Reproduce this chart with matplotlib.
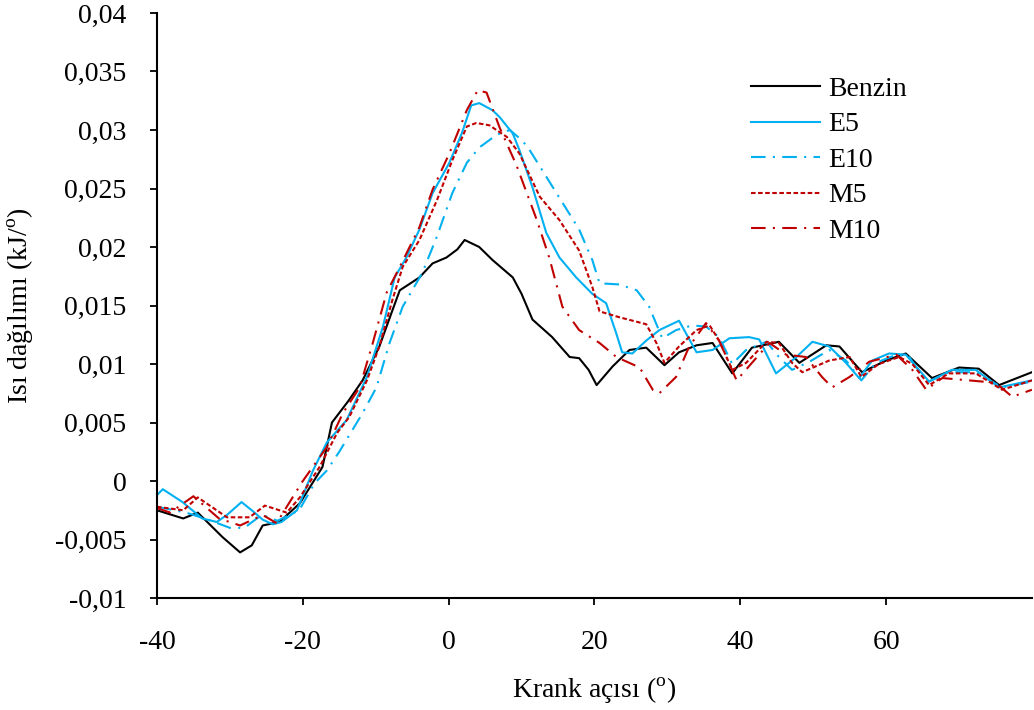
import matplotlib

matplotlib.use("Agg")
import matplotlib.pyplot as plt

# crank angle / heat release
benzin_x = [-40, -36.4, -34.4, -31, -28.6, -27, -25.5, -23.2, -20.4, -17.3, -16, -13.8, -11.8,
            -9.5, -7.7, -6.7, -4, -2.2, -0.3, 1.2, 2.2, 4.2, 6, 8.8, 10, 11.5, 14.2, 16.6,
            17.9, 19.2, 20.3, 22.5, 24.8, 27.1, 29.6, 31.6, 34, 36.2, 38.9, 41.6, 45.3,
            48.1, 51.8, 53.6, 56.7, 60, 62.7, 66.3, 70, 72.7, 75.5, 80]
benzin_y = [-0.0025, -0.0032, -0.0027, -0.0048, -0.0061, -0.0055, -0.0038, -0.0035, -0.0019,
            0.0012, 0.0050, 0.0068, 0.0086, 0.0115, 0.0146, 0.0163, 0.0174, 0.0186, 0.0191,
            0.0198, 0.0206, 0.0200, 0.0189, 0.0174, 0.0160, 0.0138, 0.0123, 0.0106, 0.0105,
            0.0095, 0.0082, 0.0098, 0.0112, 0.0114, 0.0099, 0.0110, 0.0116, 0.0118, 0.0092,
            0.0114, 0.0119, 0.0101, 0.0116, 0.0115, 0.0093, 0.0103, 0.0109, 0.0088, 0.0097,
            0.0096, 0.0082, 0.0093]

e5_x = [-40, -39.2, -36.5, -33.8, -31.8, -30.4, -28.4, -26.8, -25.5, -24.1, -22.9, -20.8, -18.6,
        -16.7, -14, -11.2, -9, -7.4, -5.8, -4, -2.2, 0.1, 1.8, 3.1, 4.2, 6, 7, 8.8, 9.7, 11.5,
        13.4, 15.2, 17.5, 19.7, 21.6, 23, 23.8, 25.2, 27.1, 28.9, 31.6, 34, 36.2, 38.5, 41.2,
        42.6, 44.9, 47.7, 49.9, 52.2, 54.5, 56.3, 58.1, 60.4, 62.7, 65.9, 69, 72.3, 75.5, 80]
e5_y = [-0.0012, -0.0007, -0.0018, -0.0032, -0.0035, -0.0029, -0.0018, -0.0026, -0.0033,
        -0.0037, -0.0035, -0.0025, 0.0009, 0.0033, 0.0052, 0.0089, 0.0132, 0.0174, 0.0191,
        0.0215, 0.0246, 0.0272, 0.0297, 0.0321, 0.0323, 0.0317, 0.0311, 0.0297, 0.0283,
        0.0251, 0.0212, 0.0191, 0.0174, 0.0160, 0.0152, 0.0126, 0.0110, 0.0109, 0.0120,
        0.0129, 0.0137, 0.0110, 0.0112, 0.0122, 0.0123, 0.0121, 0.0092, 0.0106, 0.0119,
        0.0115, 0.0101, 0.0088, 0.0103, 0.0109, 0.0108, 0.0085, 0.0095, 0.0095, 0.0080, 0.0086]

e10_x = [-40, -36, -33, -30, -28, -26.3, -25.5, -23.5, -20.5, -18.4, -16.7, -15, -11.8, -9.9,
         -8.1, -6.3, -3.6, -1.6, 0.5, 2.5, 4.2, 6.6, 8.4, 10.1, 11.1, 13.4, 15.6, 17.9, 19.7,
         20.7, 23.4, 25.8, 27.5, 29.3, 31.2, 33.4, 35.3, 37.1, 38.9, 40.8, 43.6, 45.3, 47.1,
         49.5, 52.2, 54.5, 56.6, 58.6, 61.4, 63.2, 65.5, 68.6, 72.3, 75.9, 80]
e10_y = [-0.0022, -0.0027, -0.0033, -0.0040, -0.0040, -0.0032, -0.0029, -0.0034, -0.0025,
         -0.0002, 0.0009, 0.0025, 0.0058, 0.0080, 0.0118, 0.0149, 0.0178, 0.0209, 0.0246,
         0.0272, 0.0285, 0.0296, 0.0300, 0.0291, 0.0283, 0.0260, 0.0238, 0.0215, 0.0189,
         0.0169, 0.0168, 0.0163, 0.0149, 0.0122, 0.0129, 0.0133, 0.0132, 0.0123, 0.0100,
         0.0112, 0.0119, 0.0106, 0.0095, 0.0102, 0.0112, 0.0103, 0.0086, 0.0101, 0.0108,
         0.0106, 0.0084, 0.0093, 0.0093, 0.0080, 0.0085]

m5_x = [-40, -36.4, -34.4, -30.4, -27.3, -25.2, -22.2, -20.4, -17.7, -15.3, -13.6, -11.2, -9.5,
        -7.7, -6.3, -4, -1.6, 0.5, 2.5, 3.8, 5.6, 8, 9.7, 12.5, 15.2, 17.9, 19.7, 20.7, 23.4,
        27.1, 28.5, 29.6, 31.6, 34, 35.8, 37.1, 38.9, 40.8, 43.6, 45.3, 47.1, 48.5, 52.2, 55,
        56.6, 59, 61.8, 63.6, 65.9, 68.6, 72.3, 75.9, 80]
m5_y = [-0.0022, -0.0025, -0.0014, -0.0031, -0.0031, -0.0021, -0.0027, -0.0014, 0.0012,
        0.0041, 0.0055, 0.0086, 0.0115, 0.0155, 0.0183, 0.0206, 0.0240, 0.0274, 0.0303,
        0.0306, 0.0304, 0.0294, 0.0280, 0.0243, 0.0223, 0.0197, 0.0166, 0.0145, 0.0140,
        0.0134, 0.0118, 0.0101, 0.0115, 0.0129, 0.0133, 0.0120, 0.0095, 0.0101, 0.0119,
        0.0118, 0.0101, 0.0093, 0.0103, 0.0106, 0.0089, 0.0100, 0.0106, 0.0100, 0.0082,
        0.0092, 0.0092, 0.0078, 0.0086]

m10_x = [-40, -38.2, -35, -31.5, -28.6, -25.5, -23.6, -21.4, -20, -16.7, -14.5, -12.2, -10.4,
         -8.5, -6.7, -4, -2.2, 0.1, 2.5, 4, 5.2, 7, 9.3, 12.1, 13.8, 15.6, 17.9, 20.7, 23,
         26.2, 28, 28.9, 31.2, 33, 35.3, 37.1, 39.5, 41.6, 44, 46.3, 49, 51.2, 52.6, 55, 57.7,
         61.4, 63.6, 65.5, 67.7, 71.4, 75, 77.3, 80]
m10_y = [-0.0023, -0.0027, -0.0013, -0.0032, -0.0038, -0.0029, -0.0036, -0.0014, 0.0000,
         0.0029, 0.0058, 0.0080, 0.0118, 0.0161, 0.0183, 0.0217, 0.0249, 0.0280, 0.0317,
         0.0334, 0.0332, 0.0302, 0.0270, 0.0223, 0.0191, 0.0149, 0.0129, 0.0118, 0.0106,
         0.0097, 0.0078, 0.0075, 0.0089, 0.0115, 0.0135, 0.0120, 0.0086, 0.0101, 0.0118,
         0.0108, 0.0106, 0.0089, 0.0080, 0.0089, 0.0102, 0.0108, 0.0095, 0.0078, 0.0088,
         0.0086, 0.0084, 0.0072, 0.0078]

x_ticks = [-40, -20, 0, 20, 40, 60]
y_ticks = [-0.01, -0.005, 0, 0.005, 0.01, 0.015, 0.02, 0.025, 0.03, 0.035, 0.04]
y_labels = ["-0,01", "-0,005", "0", "0,005", "0,01", "0,015", "0,02", "0,025", "0,03",
            "0,035", "0,04"]

BLUE = "#00B0F0"
RED = "#C00000"

plt.rcParams.update(
    {
        "font.family": "Liberation Serif",
        "font.size": 20,
        "mathtext.fontset": "custom",
        "mathtext.rm": "Liberation Serif",
        "axes.unicode_minus": False,
    }
)

fig = plt.figure(figsize=(10.34, 7.10), dpi=100)
ax = fig.add_axes([0.1518, 0.1577, 0.8462, 0.824])

ax.plot(benzin_x, benzin_y, color="black", lw=1.5, label="Benzin")
ax.plot(e5_x, e5_y, color=BLUE, lw=1.5, label="E5")
ax.plot(e10_x, e10_y, color=BLUE, lw=1.5, ls=(0, (7, 3.5, 1, 3.5)), label="E10")
ax.plot(m5_x, m5_y, color=RED, lw=1.5, ls=(0, (2.2, 1.2)), label="M5")
ax.plot(m10_x, m10_y, color=RED, lw=1.5, ls=(0, (7, 3.5, 1, 3.5)), label="M10")

ax.set_xlim(-40, 80)
ax.set_ylim(-0.01, 0.04)
ax.set_xticks(x_ticks)
ax.set_yticks(y_ticks)
ax.set_yticklabels(y_labels)
ax.tick_params(direction="out", length=5, width=1.3, labelsize=20)
ax.tick_params(axis="y", pad=17)
ax.tick_params(axis="x", pad=18)
for side in ("top", "right"):
    ax.spines[side].set_visible(False)
for side in ("left", "bottom"):
    ax.spines[side].set_linewidth(1.5)

ax.set_xlabel("Krank açısı ($^{\\rm o}$)", fontsize=20, labelpad=15)
ax.set_ylabel("Isı dağılımı (kJ/$^{\\rm o}$)", fontsize=20, labelpad=14)

ax.legend(loc="upper left", bbox_to_anchor=(0.650, 0.934), frameon=False, fontsize=20,
          handlelength=2.5, handletextpad=0.3, labelspacing=0.36, borderpad=0.4)

fig.savefig("out.png", dpi=100)
